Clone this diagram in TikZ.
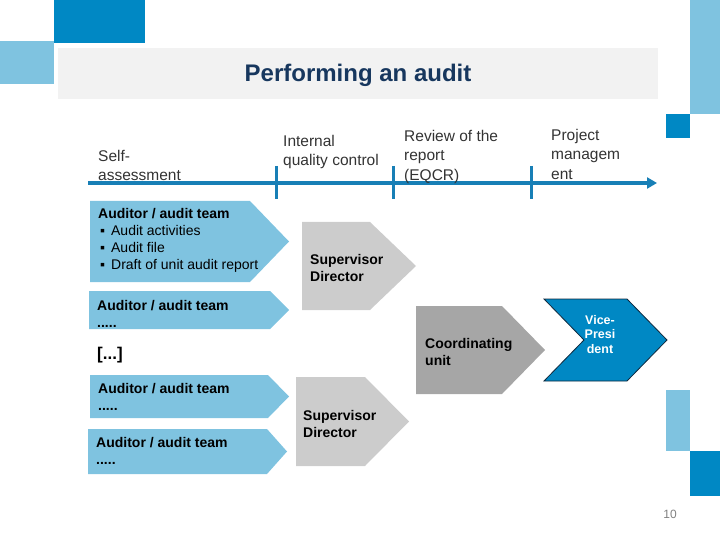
\documentclass[tikz,border=0pt]{standalone}
\usepackage{fontspec}
\setmainfont{Liberation Sans}
\usetikzlibrary{arrows.meta}
\definecolor{teamblue}{RGB}{127,195,224}
\definecolor{deepblue}{RGB}{0,136,196}
\definecolor{lineblue}{RGB}{24,127,182}
\definecolor{supgrey}{RGB}{204,204,204}
\definecolor{unitgrey}{RGB}{166,166,166}
\definecolor{bandgrey}{RGB}{242,242,242}
\definecolor{navy}{RGB}{23,55,94}
\definecolor{vpline}{RGB}{16,40,60}

\begin{document}
\begin{tikzpicture}[
  x=1pt,y=-1pt,
  band/.style={fill=bandgrey,minimum width=600pt,minimum height=51pt,inner sep=0pt,
    text height=21pt,text depth=5pt,
    text=navy,font=\fontsize{24}{28}\selectfont\bfseries},
  phase/.style={anchor=west,inner sep=0pt,align=left,text=black!80,
    font=\fontsize{15.5}{19.5}\selectfont},
  team/.style={fill=teamblue},
  sup/.style={fill=supgrey},
  unit/.style={fill=unitgrey},
  vp/.style={fill=deepblue,draw=vpline,line width=0.8pt,line join=miter},
  txt/.style={anchor=west,inner sep=0pt,align=left,font=\fontsize{14}{17}\selectfont},
  btxt/.style={txt,font=\fontsize{14}{17}\selectfont\bfseries},
  tl/.style={line width=4pt,draw=lineblue},
  tick/.style={line width=3pt,draw=lineblue},
]
\useasboundingbox (0,0) rectangle (720,540);
% corner blocks
\fill[deepblue] (54,0) rectangle (145,43);
\fill[teamblue] (0,41) rectangle (54,84);
\fill[teamblue] (690,0) rectangle (720,114);
\fill[deepblue] (666,114) rectangle (690,138);
\fill[teamblue] (666,390) rectangle (690,451);
\fill[deepblue] (690,451) rectangle (720,496);
% title
\node[band] (title) at (358,73.5) {Performing an audit};
% timeline
\coordinate (tstart) at (88,183);
\coordinate (tend) at (657,183);
\draw[tl,-{Triangle[length=10pt,width=11pt]}] (tstart) -- (tend);
\foreach \x in {276,393,531} \draw[tick] (\x,166) -- (\x,199);
\node[phase] (self)   at (98,165.5)  {Self-\\assessment};
\node[phase] (iqc)    at (283,152) {Internal\\quality control};
\node[phase] (review) at (404,156.5) {Review of the\\report\\(EQCR)};
\node[phase] (pm)     at (551,154) {Project\\managem\\ent};
% auditor chevrons
\fill[team] (90,201) -- (250,201) -- (289,241.5) -- (250,282) -- (90,282) -- cycle;
\node[txt] (team1) at (98,240) {\textbf{Auditor / audit team}\\
  \hspace*{2pt}▪\hspace*{6pt}Audit activities\\
  \hspace*{2pt}▪\hspace*{6pt}Audit file\\
  \hspace*{2pt}▪\hspace*{6pt}Draft of unit audit report};
\fill[team] (89,291) -- (270,291) -- (289,310) -- (270,329) -- (89,329) -- cycle;
\node[btxt] (team2) at (97,314) {Auditor / audit team\\.....};
\node[btxt,font=\fontsize{17}{20}\selectfont\bfseries] (more) at (97,355) {[...]};
\fill[team] (90,375) -- (268,375) -- (289,396.5) -- (268,418) -- (90,418) -- cycle;
\node[btxt] (team3) at (98,397) {Auditor / audit team\\.....};
\fill[team] (88,429) -- (267,429) -- (287,451.5) -- (267,474) -- (88,474) -- cycle;
\node[btxt] (team4) at (96,451) {Auditor / audit team\\.....};
% supervisors, unit, vice-president
\fill[sup] (302,222) -- (370,222) -- (416,266) -- (370,310) -- (302,310) -- cycle;
\node[btxt] (sup1) at (310,267.5) {Supervisor\\Director};
\fill[sup] (296,377) -- (365,377) -- (409,421.5) -- (365,466) -- (296,466) -- cycle;
\node[btxt] (sup2) at (303,423.5) {Supervisor\\Director};
\fill[unit] (416,306) -- (502,306) -- (545,350) -- (502,394) -- (416,394) -- cycle;
\node[btxt] (unit) at (425,352) {Coordinating\\unit};
\draw[vp] (544,299) -- (627,299) -- (667,340) -- (627,381) -- (544,381) -- (584,340) -- cycle;
\node[btxt,anchor=center,align=center,text=white,font=\fontsize{12.5}{14.5}\selectfont\bfseries]
  (vice) at (600,334.5) {Vice-\\Presi\\dent};
% page number
\node[inner sep=0pt,text=black!50,font=\fontsize{12}{14}\selectfont] (page) at (670,514) {10};
\end{tikzpicture}
\end{document}
